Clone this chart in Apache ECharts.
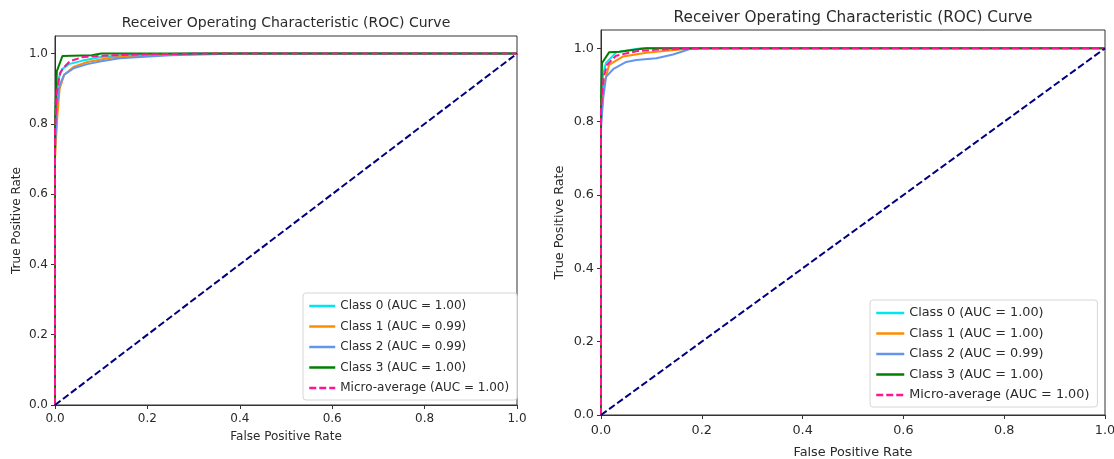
<!DOCTYPE html>
<html>
<head>
<meta charset="utf-8">
<script src="https://cdn.jsdelivr.net/npm/echarts@6/dist/echarts.min.js"></script>
<style>
  html, body { margin: 0; padding: 0; background: #fff; }
  #chart { width: 1114px; height: 459px; }
</style>
</head>
<body>
<div id="chart"></div>
<script>
const TITLE = 'Receiver Operating Characteristic (ROC) Curve';
const TICKS = [0, 0.2, 0.4, 0.6, 0.8, 1.0];

// left panel curves: [fpr, tpr]
const leftClass0 = [[0, 0], [0, 0.75], [0.003, 0.88], [0.008, 0.93], [0.015, 0.955], [0.03, 0.97], [0.06, 0.98], [0.1, 0.99], [0.15, 0.995], [0.3, 1], [1, 1]];
const leftClass1 = [[0, 0], [0, 0.7], [0.005, 0.82], [0.01, 0.9], [0.02, 0.94], [0.04, 0.962], [0.07, 0.976], [0.12, 0.988], [0.2, 0.995], [0.35, 1], [1, 1]];
const leftClass2 = [[0, 0], [0, 0.72], [0.004, 0.85], [0.01, 0.91], [0.02, 0.94], [0.04, 0.958], [0.07, 0.97], [0.1, 0.978], [0.14, 0.987], [0.25, 0.995], [0.4, 1], [1, 1]];
const leftClass3 = [[0, 0], [0, 0.8], [0.004, 0.95], [0.016, 0.993], [0.08, 0.995], [0.1, 1], [1, 1]];
const leftMicro = [[0, 0], [0, 0.78], [0.004, 0.89], [0.011, 0.945], [0.02, 0.962], [0.032, 0.978], [0.06, 0.99], [0.1, 0.994], [0.2, 0.998], [0.3, 1], [1, 1]];
const leftAuc = ['1.00', '0.99', '0.99', '1.00', '1.00'];

// right panel curves
const rightClass0 = [[0, 0], [0, 0.82], [0.004, 0.93], [0.01, 0.96], [0.03, 0.989], [0.06, 0.996], [0.08, 1], [1, 1]];
const rightClass1 = [[0, 0], [0, 0.8], [0.006, 0.9], [0.016, 0.955], [0.044, 0.978], [0.09, 0.988], [0.15, 0.996], [0.2, 1], [1, 1]];
const rightClass2 = [[0, 0], [0, 0.78], [0.004, 0.86], [0.01, 0.922], [0.024, 0.943], [0.05, 0.963], [0.07, 0.968], [0.11, 0.973], [0.143, 0.983], [0.163, 0.992], [0.18, 1], [1, 1]];
const rightClass3 = [[0, 0], [0, 0.85], [0.002, 0.96], [0.016, 0.989], [0.036, 0.991], [0.09, 1], [1, 1]];
const rightMicro = [[0, 0], [0, 0.83], [0.005, 0.92], [0.012, 0.955], [0.03, 0.98], [0.07, 0.992], [0.12, 0.997], [0.2, 1], [1, 1]];
const rightAuc = ['1.00', '1.00', '0.99', '1.00', '1.00'];

const chanceLine = [[0, 0], [1, 1]];

const CLASS_LABELS = ['Class 0', 'Class 1', 'Class 2', 'Class 3', 'Micro-average'];
const COLORS = ['#00e5ee', '#ff8c00', '#6495ed', '#008000', '#ff1493'];

const FONT = 'DejaVu Sans';
const TEXT = '#2a2a2a';

const panels = [
  { grid: { left: 55, top: 36, width: 462, height: 369 }, curves: [leftClass0, leftClass1, leftClass2, leftClass3, leftMicro], auc: leftAuc,
    titleX: 281, titleTop: 11, titleSize: 14, font: 12, xGap: 26, yGap: 32, labelMargin: 8,
    legend: { left: 303, top: 293, itemWidth: 26, fontSize: 12 } },
  { grid: { left: 601, top: 30, width: 504, height: 385 }, curves: [rightClass0, rightClass1, rightClass2, rightClass3, rightMicro], auc: rightAuc,
    titleX: 848, titleTop: 6, titleSize: 15.3, font: 12.8, xGap: 31, yGap: 35, labelMargin: 9,
    legend: { left: 870, top: 300, itemWidth: 28, fontSize: 12.8 } },
];

const grid = [], xAxis = [], yAxis = [], series = [], legend = [], title = [];

panels.forEach((p, i) => {
  grid.push(Object.assign({ show: true, borderColor: '#333', borderWidth: 1, backgroundColor: '#fff', outerBoundsMode: 'none', containLabel: false }, p.grid));
  title.push({
    text: TITLE, left: p.titleX, top: p.titleTop, textAlign: 'center',
    textStyle: { fontFamily: FONT, fontSize: p.titleSize, fontWeight: 'normal', color: TEXT },
  });
  const axisCommon = {
    gridIndex: i, type: 'value', min: 0,
    nameLocation: 'middle',
    nameTextStyle: { fontFamily: FONT, fontSize: p.font, color: TEXT },
    axisLine: { show: true, onZero: false, lineStyle: { color: '#333', width: 1 } },
    axisTick: { show: true, inside: false, length: 4, customValues: TICKS, lineStyle: { color: '#333' } },
    axisLabel: { customValues: TICKS, formatter: v => v.toFixed(1), fontFamily: FONT, fontSize: p.font, color: TEXT, margin: p.labelMargin },
    splitLine: { show: false },
  };
  xAxis.push(Object.assign({}, axisCommon, { max: 1, name: 'False Positive Rate', nameGap: p.xGap }));
  yAxis.push(Object.assign({}, axisCommon, { max: 1.05, name: 'True Positive Rate', nameGap: p.yGap,
    axisLabel: Object.assign({}, axisCommon.axisLabel, { margin: 7 }) }));

  const names = [];
  p.curves.forEach((data, k) => {
    const name = `${CLASS_LABELS[k]} (AUC = ${p.auc[k]})`;
    names.push(name);
    series.push({
      type: 'line', name, xAxisIndex: i, yAxisIndex: i, data,
      symbol: 'none', silent: true, animation: false,
      lineStyle: { color: COLORS[k], width: 2, type: k === 4 ? [7, 3] : 'solid' },
      itemStyle: { color: COLORS[k] },
      z: 2 + k,
    });
  });
  series.push({
    type: 'line', name: 'chance' + i, xAxisIndex: i, yAxisIndex: i, data: chanceLine,
    symbol: 'none', silent: true, animation: false,
    lineStyle: { color: '#000080', width: 2, type: [7, 3] },
    z: 8,
  });
  legend.push({
    data: names, orient: 'vertical', left: p.legend.left, top: p.legend.top,
    itemWidth: p.legend.itemWidth, itemHeight: 14, itemGap: 6.5,
    padding: [6, 8, 5, 5],
    itemStyle: { color: 'rgba(0,0,0,0)', borderWidth: 0, opacity: 0 },
    lineStyle: { width: 2.5 },
    backgroundColor: 'rgba(255,255,255,0.85)', borderColor: '#d6d6d6', borderWidth: 1, borderRadius: 3,
    textStyle: { fontFamily: FONT, fontSize: p.legend.fontSize, color: TEXT, lineHeight: 14 },
    selectedMode: false,
  });
});

const chart = echarts.init(document.getElementById('chart'), null, { renderer: 'canvas' });
chart.setOption({
  backgroundColor: '#fff',
  animation: false,
  title, grid, xAxis, yAxis, series, legend,
});
</script>
</body>
</html>
